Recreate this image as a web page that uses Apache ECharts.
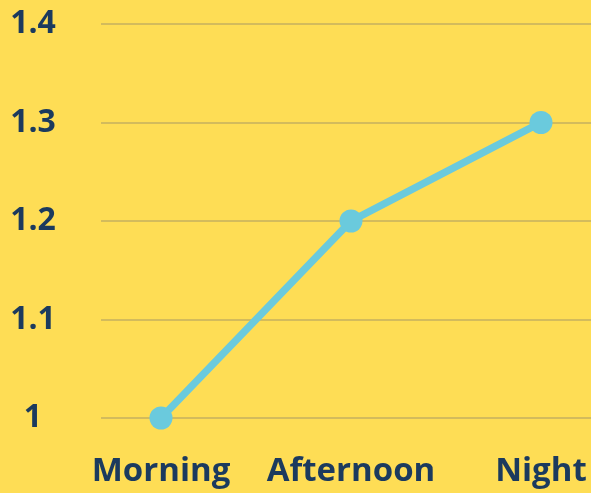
<!DOCTYPE html>
<html><head><meta charset="utf-8">
<script src="https://cdn.jsdelivr.net/npm/echarts@6/dist/echarts.min.js"></script>
<style>html,body{margin:0;padding:0;background:#FEDD55;}#c{width:591px;height:493px;}</style>
</head><body><div id="c"></div>
<script>
const categories = ['Morning', 'Afternoon', 'Night'];
const values = [1.0, 1.2, 1.3];
const yMin = 1.0, yMax = 1.4, yStep = 0.1;

const navy = '#1B3A5E';
const font = '"Open Sans", sans-serif';
const chart = echarts.init(document.getElementById('c'));
chart.setOption({
  backgroundColor: '#FEDD55',
  animation: false,
  grid: [
    {left: 101, right: 0, top: 24, bottom: 75},
    {left: 161, right: 50, top: 24, bottom: 75}
  ],
  xAxis: [
    {gridIndex: 0, type: 'category', data: categories, show: false},
    {gridIndex: 1, type: 'category', data: categories, boundaryGap: false,
     axisLine: {show: false}, axisTick: {show: false},
     axisLabel: {color: navy, fontFamily: font, fontWeight: 'bold', fontSize: 33, margin: 37, interval: 0, hideOverlap: false}}
  ],
  yAxis: [
    {gridIndex: 0, type: 'value', min: yMin, max: yMax, interval: yStep,
     axisLine: {show: false}, axisTick: {show: false},
     splitLine: {lineStyle: {color: '#D3BB5C', width: 2}},
     axisLabel: {color: navy, fontFamily: font, fontWeight: 'bold', fontSize: 32, margin: 68, align: 'center',
       formatter: v => String(Math.round(v * 10) / 10)}},
    {gridIndex: 1, type: 'value', min: yMin, max: yMax, interval: yStep, show: false}
  ],
  series: [{
    type: 'line', xAxisIndex: 1, yAxisIndex: 1, data: values,
    lineStyle: {color: '#6ACADD', width: 7.5},
    itemStyle: {color: '#6ACADD'},
    symbol: 'circle', symbolSize: 23
  }]
});
</script></body></html>
